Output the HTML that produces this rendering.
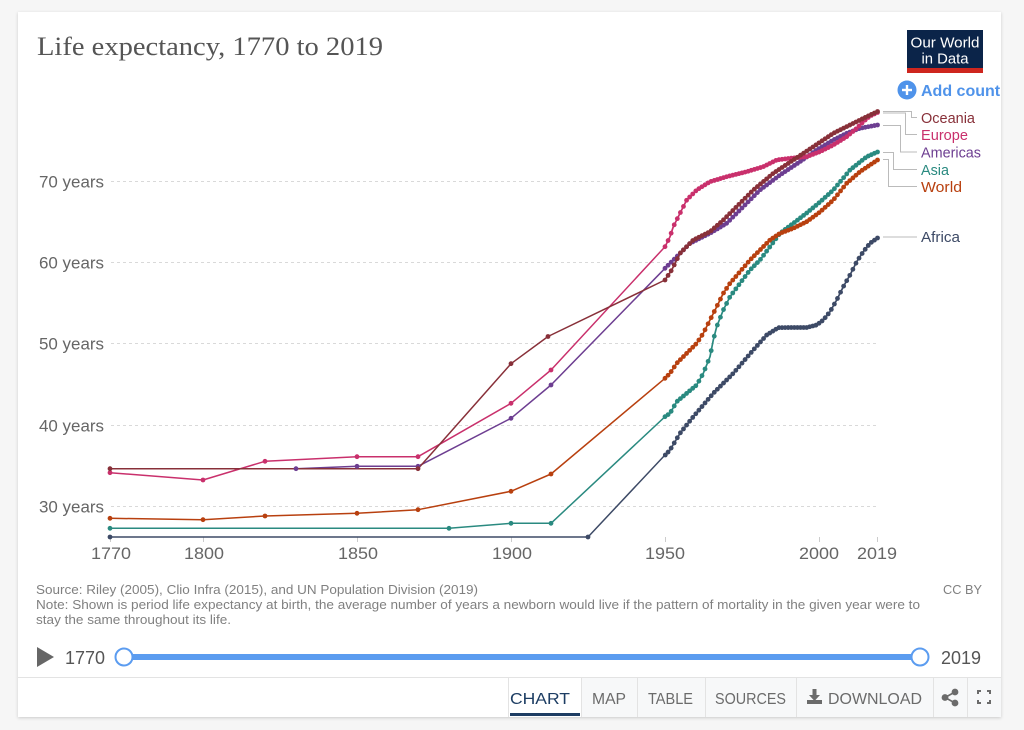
<!DOCTYPE html>
<html><head><meta charset="utf-8"><style>
html,body{margin:0;padding:0;background:#f6f6f6;width:1024px;height:730px;overflow:hidden}
svg{display:block}
text{font-family:"Liberation Sans",sans-serif}
</style></head><body>
<svg id="chart" width="1024" height="730" viewBox="0 0 1024 730" xmlns="http://www.w3.org/2000/svg">
<defs>
<clipPath id="card"><rect x="18" y="12" width="983" height="705"/></clipPath>
<filter id="sh" x="-5%" y="-5%" width="110%" height="110%"><feDropShadow dx="0" dy="1" stdDeviation="1.5" flood-color="#000" flood-opacity="0.18"/></filter>
</defs>
<rect x="18" y="12" width="983" height="705" fill="#fff" filter="url(#sh)"/>
<g clip-path="url(#card)">
<text x="37" y="55" font-size="26" fill="#555" textLength="346" lengthAdjust="spacingAndGlyphs" style="font-family:'Liberation Serif',serif">Life expectancy, 1770 to 2019</text>
<rect x="907" y="30" width="76" height="43" fill="#0b2449"/>
<rect x="907" y="68" width="76" height="5" fill="#ce261e"/>
<text x="945" y="47.5" font-size="14.5" fill="#fff" text-anchor="middle" textLength="69" lengthAdjust="spacingAndGlyphs">Our World</text>
<text x="945" y="63.5" font-size="14.5" fill="#fff" text-anchor="middle" textLength="47" lengthAdjust="spacingAndGlyphs">in Data</text>
<circle cx="907" cy="90" r="9.5" fill="#4f93ea"/>
<rect x="902" y="88.8" width="10" height="2.4" fill="#fff"/>
<rect x="905.8" y="85" width="2.4" height="10" fill="#fff"/>
<text x="921" y="96" font-size="16" font-weight="bold" fill="#4f93ea">Add country</text>

<g stroke="#d9d9d9" stroke-width="1" stroke-dasharray="3,3">
<line x1="111" y1="181.5" x2="876" y2="181.5"/>
<line x1="111" y1="262.5" x2="876" y2="262.5"/>
<line x1="111" y1="343.5" x2="876" y2="343.5"/>
<line x1="111" y1="425.5" x2="876" y2="425.5"/>
<line x1="111" y1="506.5" x2="876" y2="506.5"/>
</g>
<g font-size="17" fill="#666" text-anchor="end">
<text x="104" y="187.5" textLength="65" lengthAdjust="spacingAndGlyphs">70 years</text>
<text x="104" y="268.5" textLength="65" lengthAdjust="spacingAndGlyphs">60 years</text>
<text x="104" y="349.5" textLength="65" lengthAdjust="spacingAndGlyphs">50 years</text>
<text x="104" y="431.5" textLength="65" lengthAdjust="spacingAndGlyphs">40 years</text>
<text x="104" y="512.5" textLength="65" lengthAdjust="spacingAndGlyphs">30 years</text>
</g>
<g stroke="#ccc" stroke-width="1">
<line x1="110.5" y1="537" x2="110.5" y2="542"/>
<line x1="203.5" y1="537" x2="203.5" y2="542"/>
<line x1="357.5" y1="537" x2="357.5" y2="542"/>
<line x1="511.5" y1="537" x2="511.5" y2="542"/>
<line x1="665.5" y1="537" x2="665.5" y2="542"/>
<line x1="819.5" y1="537" x2="819.5" y2="542"/>
<line x1="877.5" y1="537" x2="877.5" y2="542"/>
</g>
<g font-size="17" fill="#666" text-anchor="middle">
<text x="111" y="559" textLength="40" lengthAdjust="spacingAndGlyphs">1770</text>
<text x="204" y="559" textLength="40" lengthAdjust="spacingAndGlyphs">1800</text>
<text x="358" y="559" textLength="40" lengthAdjust="spacingAndGlyphs">1850</text>
<text x="512" y="559" textLength="40" lengthAdjust="spacingAndGlyphs">1900</text>
<text x="665" y="559" textLength="40" lengthAdjust="spacingAndGlyphs">1950</text>
<text x="819" y="559" textLength="40" lengthAdjust="spacingAndGlyphs">2000</text>
<text x="877" y="559" textLength="40" lengthAdjust="spacingAndGlyphs">2019</text>
</g>

<g fill="none" stroke-linejoin="round" id="series">
<g stroke="#3d4a66">
<polyline stroke-width="1.5" points="110,537 588,537 665,455"/>
<polyline class="dl" stroke-width="1.8" points="665.3,455 670,450 680,433.3 693.3,416.7 713.3,393.3 733.3,373.3 753.3,350 766.7,335 778.3,327.7 793.3,327.5 806.7,327.5 816.7,325 823.3,320 830,311.7 836.7,300 843.3,286.7 850,275 856.7,261.7 863.3,251.7 870,243.3 877.5,238"/>
<polyline class="db" stroke-width="4.4" stroke-linecap="round" stroke-dasharray="0 3.4" points="665.3,455 670,450 680,433.3 693.3,416.7 713.3,393.3 733.3,373.3 753.3,350 766.7,335 778.3,327.7 793.3,327.5 806.7,327.5 816.7,325 823.3,320 830,311.7 836.7,300 843.3,286.7 850,275 856.7,261.7 863.3,251.7 870,243.3 877.5,238"/>
</g>
<g stroke="#2a8a80">
<polyline stroke-width="1.5" points="110,528.3 449,528.3 511,523.3 551,523.3 665,416.7"/>
<polyline class="dl" stroke-width="1.8" points="665,416.7 670,413.3 676.7,401.7 686.7,393.3 696.7,385 703.3,373.3 710,356.7 713.3,340 716.7,326.7 723.3,310 730,296.7 740,283.3 750,270 760,260 770,246.7 780,233.3 793.3,223.3 806.7,213 820,202 833.3,190 850,170 866.7,156.7 877.5,152"/>
<polyline class="db" stroke-width="4.4" stroke-linecap="round" stroke-dasharray="0 3.4" points="665,416.7 670,413.3 676.7,401.7 686.7,393.3 696.7,385 703.3,373.3 710,356.7 713.3,340 716.7,326.7 723.3,310 730,296.7 740,283.3 750,270 760,260 770,246.7 780,233.3 793.3,223.3 806.7,213 820,202 833.3,190 850,170 866.7,156.7 877.5,152"/>
</g>
<g stroke="#b8400f">
<polyline stroke-width="1.5" points="110,518.3 203,519.7 265,516 357,513.3 418,509.7 511,491.3 551,474 665,378.3"/>
<polyline class="dl" stroke-width="1.8" points="665,378.3 670,373.3 676.7,363.3 686.7,353.3 696.7,343.3 703.3,333.3 710,320 716.7,306.7 723.3,293.3 730,283.3 740,271.7 750,260 760,250 770,240 780,233.3 793.3,228.3 806.7,221.7 820,212 833.3,200 846.7,183.3 860,171.7 870,165 877.5,160"/>
<polyline class="db" stroke-width="4.4" stroke-linecap="round" stroke-dasharray="0 3.4" points="665,378.3 670,373.3 676.7,363.3 686.7,353.3 696.7,343.3 703.3,333.3 710,320 716.7,306.7 723.3,293.3 730,283.3 740,271.7 750,260 760,250 770,240 780,233.3 793.3,228.3 806.7,221.7 820,212 833.3,200 846.7,183.3 860,171.7 870,165 877.5,160"/>
</g>
<g stroke="#6d3e91">
<polyline stroke-width="1.5" points="110,468.7 296,468.7 357,466.3 418,466.3 511,418.3 551,385 665,268.3"/>
<polyline class="dl" stroke-width="1.8" points="665,268.3 676.7,256.7 690,243.3 710,233.3 726.7,223.3 743.3,206.7 760,190 780,175 800,161.7 816.7,150 833.3,140 846.7,133.3 860,128.3 877.5,125"/>
<polyline class="db" stroke-width="4.4" stroke-linecap="round" stroke-dasharray="0 3.4" points="665,268.3 676.7,256.7 690,243.3 710,233.3 726.7,223.3 743.3,206.7 760,190 780,175 800,161.7 816.7,150 833.3,140 846.7,133.3 860,128.3 877.5,125"/>
</g>
<g stroke="#c9306c">
<polyline stroke-width="1.5" points="110,472.7 203,480 265,461.3 357,456.7 418,456.7 511,403.3 551,370 665,246.7"/>
<polyline class="dl" stroke-width="1.8" points="665,246.7 670,236.7 673.3,226.7 680,213.3 686.7,200 696.7,190 710,181.7 726.7,176.7 746.7,171.7 763.3,166.7 776.7,160 790,158.3 806.7,156.7 820,151.7 833.3,145 846.7,136.7 856.7,128.3 863.3,121.7 870,116 877.5,112.5"/>
<polyline class="db" stroke-width="4.4" stroke-linecap="round" stroke-dasharray="0 3.4" points="665,246.7 670,236.7 673.3,226.7 680,213.3 686.7,200 696.7,190 710,181.7 726.7,176.7 746.7,171.7 763.3,166.7 776.7,160 790,158.3 806.7,156.7 820,151.7 833.3,145 846.7,136.7 856.7,128.3 863.3,121.7 870,116 877.5,112.5"/>
</g>
<g stroke="#883039">
<polyline stroke-width="1.5" points="110,468.7 418,468.7 511,363.7 548,336.5 665,280"/>
<polyline class="dl" stroke-width="1.8" points="665,280 671.7,270 680,253.3 693.3,240 710,231.7 723.3,220 740,203.3 753.3,190 773.3,173.3 793.3,160 813.3,146.7 833.3,133.3 853.3,123.3 866.7,116.7 877.5,111.5"/>
<polyline class="db" stroke-width="4.4" stroke-linecap="round" stroke-dasharray="0 3.4" points="665,280 671.7,270 680,253.3 693.3,240 710,231.7 723.3,220 740,203.3 753.3,190 773.3,173.3 793.3,160 813.3,146.7 833.3,133.3 853.3,123.3 866.7,116.7 877.5,111.5"/>
</g>
</g>
<g fill="#3d4a66"><circle cx="110" cy="537" r="2.4"/><circle cx="588" cy="537" r="2.4"/></g>
<g fill="#2a8a80"><circle cx="110" cy="528.3" r="2.4"/><circle cx="449" cy="528.3" r="2.4"/><circle cx="511" cy="523.3" r="2.4"/><circle cx="551" cy="523.3" r="2.4"/></g>
<g fill="#b8400f"><circle cx="110" cy="518.3" r="2.4"/><circle cx="203" cy="519.7" r="2.4"/><circle cx="265" cy="516" r="2.4"/><circle cx="357" cy="513.3" r="2.4"/><circle cx="418" cy="509.7" r="2.4"/><circle cx="511" cy="491.3" r="2.4"/><circle cx="551" cy="474" r="2.4"/></g>
<g fill="#6d3e91"><circle cx="296" cy="468.7" r="2.4"/><circle cx="357" cy="466.3" r="2.4"/><circle cx="418" cy="466.3" r="2.4"/><circle cx="511" cy="418.3" r="2.4"/><circle cx="551" cy="385" r="2.4"/></g>
<g fill="#c9306c"><circle cx="110" cy="472.7" r="2.4"/><circle cx="203" cy="480" r="2.4"/><circle cx="265" cy="461.3" r="2.4"/><circle cx="357" cy="456.7" r="2.4"/><circle cx="418" cy="456.7" r="2.4"/><circle cx="511" cy="403.3" r="2.4"/><circle cx="551" cy="370" r="2.4"/></g>
<g fill="#883039"><circle cx="110" cy="468.7" r="2.4"/><circle cx="418" cy="468.7" r="2.4"/><circle cx="511" cy="363.7" r="2.4"/><circle cx="548" cy="336.5" r="2.4"/></g>

<g fill="none" stroke="#bbb" stroke-width="1">
<path d="M883,111.5 H911.5 V117.5 H917"/>
<path d="M883,113 H905.5 V134.5 H917"/>
<path d="M883,125.5 H900.5 V152 H917"/>
<path d="M883,152.5 H893.5 V169.5 H917"/>
<path d="M883,159.5 H888.5 V186.5 H917"/>
<path d="M883,237 H917"/>
</g>
<g font-size="14.5">
<text x="921" y="123" fill="#883039" textLength="54" lengthAdjust="spacingAndGlyphs">Oceania</text>
<text x="921" y="140" fill="#c9306c" textLength="47" lengthAdjust="spacingAndGlyphs">Europe</text>
<text x="921" y="157.5" fill="#6d3e91" textLength="60" lengthAdjust="spacingAndGlyphs">Americas</text>
<text x="921" y="174.8" fill="#2a8a80" textLength="28" lengthAdjust="spacingAndGlyphs">Asia</text>
<text x="921" y="192" fill="#b8400f" textLength="41" lengthAdjust="spacingAndGlyphs">World</text>
<text x="921" y="242" fill="#3d4a66" textLength="39" lengthAdjust="spacingAndGlyphs">Africa</text>
</g>

<g font-size="13" fill="#808080">
<text x="36" y="594" textLength="442" lengthAdjust="spacingAndGlyphs">Source: Riley (2005), Clio Infra (2015), and UN Population Division (2019)</text>
<text x="36" y="609" textLength="884" lengthAdjust="spacingAndGlyphs">Note: Shown is period life expectancy at birth, the average number of years a newborn would live if the pattern of mortality in the given year were to</text>
<text x="36" y="624" textLength="195" lengthAdjust="spacingAndGlyphs">stay the same throughout its life.</text>
<text x="982" y="594" text-anchor="end" textLength="39" lengthAdjust="spacingAndGlyphs">CC BY</text>
</g>

<polygon points="37,647 54,657 37,667" fill="#666"/>
<text x="65" y="664" font-size="18" fill="#555" textLength="40" lengthAdjust="spacingAndGlyphs">1770</text>
<line x1="124" y1="657" x2="920" y2="657" stroke="#5b9cf0" stroke-width="6"/>
<circle cx="124" cy="657" r="8.5" fill="#fff" stroke="#5b9cf0" stroke-width="2"/>
<circle cx="920" cy="657" r="8.5" fill="#fff" stroke="#5b9cf0" stroke-width="2"/>
<text x="941" y="664" font-size="18" fill="#555" textLength="40" lengthAdjust="spacingAndGlyphs">2019</text>

<rect x="18" y="677" width="490" height="40" fill="#fff"/>
<line x1="18" y1="677.5" x2="1001" y2="677.5" stroke="#e3e3e3"/>
<rect x="581" y="678" width="420" height="39" fill="#f7f8f9"/>
<g stroke="#e3e3e3" stroke-width="1">
<line x1="508.5" y1="677" x2="508.5" y2="717"/>
<line x1="581.5" y1="677" x2="581.5" y2="717"/>
<line x1="637.5" y1="677" x2="637.5" y2="717"/>
<line x1="705.5" y1="677" x2="705.5" y2="717"/>
<line x1="796.5" y1="677" x2="796.5" y2="717"/>
<line x1="933.5" y1="677" x2="933.5" y2="717"/>
<line x1="967.5" y1="677" x2="967.5" y2="717"/>
</g>
<rect x="510" y="713" width="70" height="3" fill="#1d3d63"/>
<g font-size="16">
<text x="510" y="704" fill="#1d3d63" textLength="60" lengthAdjust="spacingAndGlyphs">CHART</text>
<text x="592" y="704" fill="#6b6b6b" textLength="34" lengthAdjust="spacingAndGlyphs">MAP</text>
<text x="648" y="704" fill="#6b6b6b" textLength="45" lengthAdjust="spacingAndGlyphs">TABLE</text>
<text x="715" y="704" fill="#6b6b6b" textLength="71" lengthAdjust="spacingAndGlyphs">SOURCES</text>
<text x="828" y="704" fill="#6b6b6b" textLength="94" lengthAdjust="spacingAndGlyphs">DOWNLOAD</text>
</g>
<g fill="#6b6b6b">
<rect x="812.5" y="689" width="4" height="7"/>
<polygon points="809,695 820,695 814.5,701"/>
<rect x="807" y="700" width="15" height="4"/>
</g>
<g fill="#6b6b6b" stroke="#6b6b6b" stroke-width="1.6">
<line x1="945" y1="697.5" x2="955" y2="692"/>
<line x1="945" y1="697.5" x2="955" y2="703"/>
<circle cx="945" cy="697.5" r="2.6"/>
<circle cx="955" cy="692" r="2.6"/>
<circle cx="955" cy="703" r="2.6"/>
</g>
<g fill="none" stroke="#6b6b6b" stroke-width="2">
<path d="M978,694 V691 H981"/>
<path d="M987,691 H990 V694"/>
<path d="M978,700 V703 H981"/>
<path d="M987,703 H990 V700"/>
</g>
</g>
</svg>
<script>
(function(){
  var NS="http://www.w3.org/2000/svg";
  var lines=document.querySelectorAll("polyline.dl");
  for(var i=0;i<lines.length;i++){
    var pl=lines[i];
    var pts=pl.getAttribute("points").trim().split(/\s+/).map(function(p){var a=p.split(",");return [parseFloat(a[0]),parseFloat(a[1])];});
    var g=pl.parentNode;
    var col=g.getAttribute("stroke");
    pl.setAttribute("stroke-width","1.7");
    var db=g.querySelector("polyline.db");
    if(db) g.removeChild(db);
    for(var k=0;k<70;k++){
      var x=665+k*3.08;
      if(x<pts[0][0]) x=pts[0][0];
      var y=pts[pts.length-1][1];
      for(var j=0;j<pts.length-1;j++){
        if(x>=pts[j][0]&&x<=pts[j+1][0]){
          var t=(x-pts[j][0])/((pts[j+1][0]-pts[j][0])||1);
          y=pts[j][1]+t*(pts[j+1][1]-pts[j][1]);break;
        }
      }
      var c=document.createElementNS(NS,"circle");
      c.setAttribute("cx",x.toFixed(2));c.setAttribute("cy",y.toFixed(2));
      c.setAttribute("r","2.4");c.setAttribute("fill",col);c.setAttribute("stroke","none");
      g.appendChild(c);
    }
  }
})();
</script>
</body></html>
